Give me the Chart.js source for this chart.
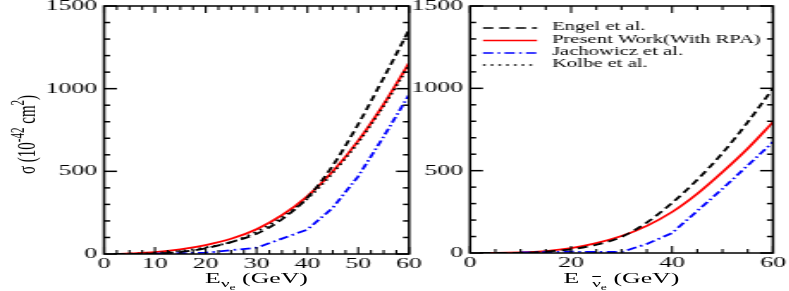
<!DOCTYPE html>
<html>
<head>
<meta charset="utf-8">
<script src="https://cdn.jsdelivr.net/npm/chart.js@4.4.1/dist/chart.umd.min.js"></script>
<style>
  body { margin: 0; background: #fff; overflow: hidden; }
  #wrap { position: absolute; left: 0; top: 0; width: 459px; height: 291px;
          transform: scaleX(1.72); transform-origin: 0 0; }
  canvas { position: absolute; top: 0; }
  .t { position: absolute; font-family: "Liberation Serif", "Times New Roman", serif;
       font-size: 15px; line-height: 15px; color: #000; white-space: nowrap; }
  .xt { top: 271px; text-align: center; }
  .s1 { font-size: 11px; position: relative; top: 4px; }
  .s2 { font-size: 8px; position: relative; top: 3px; }
  .yt { left: 8px; top: 174px; transform: rotate(-90deg); transform-origin: 0 0; }
  .yt sup { font-size: 11px; position: relative; top: -6px; vertical-align: baseline; }
</style>
</head>
<body>
<div id="wrap">
  <canvas id="left" width="250" height="291" style="left:0"></canvas>
  <canvas id="right" width="224" height="291" style="left:235px"></canvas>
  <div class="t yt">σ (10<sup>-42</sup> cm<sup>2</sup>)</div>
  <div class="t xt" style="left:60.5px;width:177.3px">E<span class="s1">ν<span class="s2">e</span></span> (GeV)</div>
  <div class="t xt" style="left:273.3px;width:176.1px">E&nbsp;&nbsp;<span class="s1"><span style="text-decoration:overline">ν</span><span class="s2">e</span></span> (GeV)</div>
</div>
<script>
// neutrino (left panel)
const leftE = [2, 5, 10, 15, 20, 25, 30, 35, 40, 45, 50, 55, 60];
const leftEngel = [0, 0, 3, 12, 35, 72, 122, 210, 340, 535, 785, 1065, 1355];
const leftPresent = [0, 3, 11, 28, 54, 92, 150, 235, 350, 500, 685, 905, 1155];
const leftKolbe = [0, 1, 6, 18, 40, 72, 135, 222, 335, 490, 675, 895, 1140];
const leftJachE = [10, 20, 30, 40, 45, 50, 55, 60];
const leftJach = [2, 8, 38, 148, 280, 470, 710, 962];

// antineutrino (right panel)
const rightE = [2, 5, 10, 15, 20, 25, 30, 35, 40, 45, 50, 55, 60];
const rightEngel = [0, 0, 1, 8, 22, 50, 98, 185, 304, 445, 607, 795, 1000];
const rightPresent = [0, 0, 3, 12, 30, 60, 103, 165, 249, 360, 492, 635, 795];
const rightJachE = [10, 20, 25, 30, 35, 40, 50, 60];
const rightJach = [3, 8, 6, 6, 55, 121, 390, 674];

const yTicks = [0, 500, 1000, 1500];
const leftXTicks = [0, 10, 20, 30, 40, 50, 60];
const rightXTicks = [0, 20, 40, 60];
const legendLabels = ['Engel et al.', 'Present Work(With RPA)', 'Jachowicz et al.', 'Kolbe et al.'];

const serif = '"Liberation Serif", "Times New Roman", serif';

const styles = [
  { borderColor: '#000', borderDash: [6, 3.5] },
  { borderColor: '#ff0000', borderDash: [] },
  { borderColor: '#0000ff', borderDash: [6, 2.5, 1.5, 2.5] },
  { borderColor: '#000', borderDash: [1.5, 3] }
];

function pts(xs, ys) {
  return xs.map((x, i) => ({ x: x, y: ys[i] }));
}

function ds(i, data, smooth) {
  return Object.assign({
    data: data,
    borderWidth: 1.8,
    pointRadius: 0,
    fill: false,
    tension: smooth ? 0.4 : 0,
    cubicInterpolationMode: smooth ? 'monotone' : 'default'
  }, styles[i]);
}

// inward ticks on all four sides plus the box
const frameTicks = {
  id: 'frameTicks',
  afterDatasetsDraw(chart, args, opts) {
    const { ctx, chartArea: a, scales: { x, y } } = chart;
    ctx.save();
    ctx.strokeStyle = '#000';
    ctx.setLineDash([]);
    function line(x1, y1, x2, y2) {
      ctx.beginPath(); ctx.moveTo(x1, y1); ctx.lineTo(x2, y2); ctx.stroke();
    }
    ctx.lineWidth = 1.1;
    for (let v = x.min; v <= x.max + 1e-6; v += opts.xMinor) {
      const px = x.getPixelForValue(v);
      const len = Math.abs(v % opts.xMajor) < 1e-6 ? 7 : 4;
      line(px, a.bottom, px, a.bottom - len);
      line(px, a.top, px, a.top + len);
    }
    ctx.lineWidth = 1.5;
    for (let v = y.min; v <= y.max + 1e-6; v += 100) {
      const py = y.getPixelForValue(v);
      const len = v % 500 === 0 ? 7.5 : 3.5;
      line(a.left, py, a.left + len, py);
      line(a.right, py, a.right - len, py);
    }
    ctx.lineWidth = 1.5;
    ctx.strokeRect(a.left, a.top, a.right - a.left, a.bottom - a.top);
    ctx.restore();
  }
};

const legendBox = {
  id: 'legendBox',
  afterDraw(chart) {
    const ctx = chart.ctx;
    const rows = [28, 40.5, 53, 65];
    ctx.save();
    ctx.font = '12px ' + serif;
    ctx.textBaseline = 'middle';
    ctx.fillStyle = '#000';
    legendLabels.forEach((lab, i) => {
      ctx.strokeStyle = styles[i].borderColor;
      ctx.setLineDash(styles[i].borderDash);
      ctx.lineWidth = 1.3;
      ctx.beginPath();
      ctx.moveTo(45.8, rows[i]);
      ctx.lineTo(77.2, rows[i]);
      ctx.stroke();
      ctx.fillText(lab, 85.9, rows[i] - 1);
    });
    ctx.restore();
  }
};

function makeChart(id, datasets, xTicks, xMinor, xMajor, yWidth, xHeight, padRight, extra) {
  return new Chart(document.getElementById(id), {
    type: 'line',
    data: { datasets: datasets },
    plugins: [frameTicks].concat(extra),
    options: {
      responsive: false,
      animation: false,
      devicePixelRatio: 1,
      layout: { padding: { top: 6, right: padRight, left: 0, bottom: 0 } },
      plugins: {
        legend: { display: false },
        tooltip: { enabled: false },
        frameTicks: { xMinor: xMinor, xMajor: xMajor }
      },
      scales: {
        x: {
          type: 'linear', min: 0, max: 60,
          grid: { display: false, drawTicks: false },
          border: { display: false },
          afterBuildTicks: s => { s.ticks = xTicks.map(v => ({ value: v })); },
          afterFit: s => { s.height = xHeight; s.paddingLeft = 0; s.paddingRight = 0; },
          ticks: {
            padding: 1, color: '#000', maxRotation: 0,
            font: { family: serif, size: 15 },
            callback: v => String(v)
          }
        },
        y: {
          type: 'linear', min: 0, max: 1500,
          grid: { display: false, drawTicks: false },
          border: { display: false },
          afterBuildTicks: s => { s.ticks = yTicks.map(v => ({ value: v })); },
          afterFit: s => { s.width = yWidth; s.paddingTop = 0; s.paddingBottom = 0; },
          ticks: {
            padding: 4, color: '#000',
            font: { family: serif, size: 15 },
            callback: v => String(v)
          }
        }
      }
    }
  });
}

makeChart('left', [
  ds(3, pts(leftE, leftKolbe), true),
  ds(0, pts(leftE, leftEngel), true),
  ds(2, pts(leftJachE, leftJach), false),
  ds(1, pts(leftE, leftPresent), true)
], leftXTicks, 2.5, 10, 60.5, 37, 12.2, []);

makeChart('right', [
  ds(0, pts(rightE, rightEngel), true),
  ds(2, pts(rightJachE, rightJach), false),
  ds(1, pts(rightE, rightPresent), true)
], rightXTicks, 5, 20, 38.3, 38, 9.6, [legendBox]);
</script>
</body>
</html>
